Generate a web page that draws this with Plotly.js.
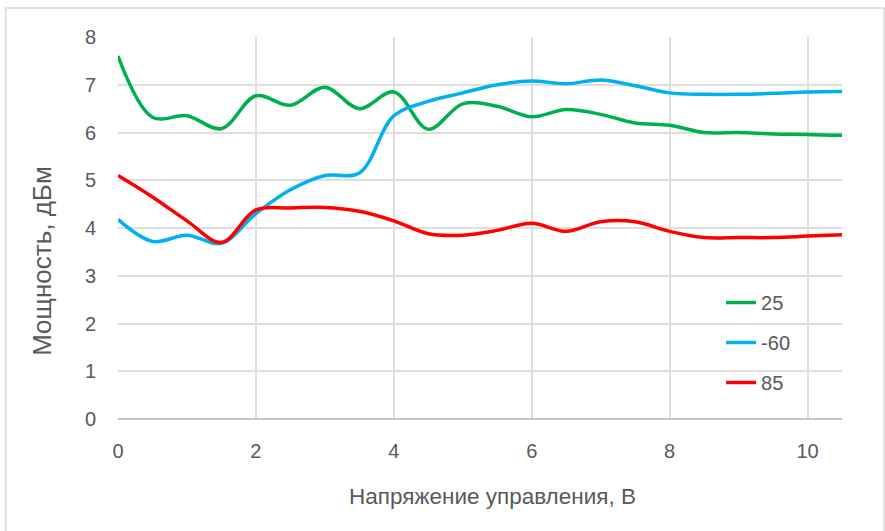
<!DOCTYPE html>
<html>
<head>
<meta charset="utf-8">
<script src="https://cdn.plot.ly/plotly-3.0.1.min.js"></script>
<style>html,body{margin:0;padding:0;background:#fff;}#chart{width:885px;height:531px;}</style>
</head>
<body>
<div id="chart"></div>
<script>
const voltage = [0,0.5,1,1.5,2,2.5,3,3.5,4,4.5,5,5.5,6,6.5,7,7.5,8,8.5,9,9.5,10,10.5];
const seriesNames = ["25","-60","85"];
const power25 = [7.6,6.32,6.35,6.08,6.77,6.57,6.95,6.5,6.85,6.07,6.6,6.55,6.33,6.48,6.38,6.2,6.15,6.0,6.0,5.97,5.96,5.94];
const powerM60 = [4.18,3.72,3.85,3.68,4.3,4.8,5.1,5.15,6.35,6.65,6.83,7.0,7.08,7.02,7.1,6.98,6.83,6.8,6.8,6.82,6.85,6.86];
const power85 = [5.1,4.65,4.15,3.7,4.38,4.42,4.43,4.35,4.15,3.88,3.85,3.95,4.1,3.93,4.13,4.13,3.93,3.8,3.8,3.8,3.83,3.86];
const xTicks = [0,2,4,6,8,10];
const yTicks = [0,1,2,3,4,5,6,7,8];
const xTitle = 'Напряжение управления, В';
const yTitle = 'Мощность, дБм';
const colors = ["#00b050","#00b0f0","#ff0000"];
const data = [power25, powerM60, power85];

const traces = data.map((y,i)=>({
  x: voltage, y: y, name: seriesNames[i], type:'scatter', mode:'lines',
  line:{color:colors[i], width:3.5, shape:'spline', smoothing:1},
  legendgroup:'g'+i, hoverinfo:'skip'
}));

const fam = '"Liberation Sans", Arial, sans-serif';
const layout = {
  width:885, height:531,
  margin:{l:118, r:43, t:37, b:112},
  paper_bgcolor:'#fff', plot_bgcolor:'#fff',
  font: {family:fam, size:20, color:'#595959'},
  showlegend:true,
  legend:{x:0.833, y:0.356, xanchor:'left', yanchor:'top', bgcolor:'rgba(0,0,0,0)',
          font:{family:fam, size:20, color:'#595959'}, tracegroupgap:11},
  xaxis:{range:[0,10.5], tickvals:xTicks, ticktext:xTicks.map(String), showgrid:true, gridcolor:'#dedede', gridwidth:2,
         zeroline:false, showline:false, ticks:'', ticklabelstandoff:18, fixedrange:true,
         tickfont:{family:fam, size:20, color:'#595959'}},
  yaxis:{range:[0,8], tickvals:yTicks, ticktext:yTicks.map(String), showgrid:true, gridcolor:'#dedede', gridwidth:2,
         zeroline:true, zerolinecolor:'#c8c8c8', zerolinewidth:2, showline:false, ticks:'', ticklabelstandoff:21, fixedrange:true,
         tickfont:{family:fam, size:20, color:'#595959'}},
  annotations:[
    {text:xTitle, xref:'paper', yref:'paper', x:0.5166, y:-0.204, xanchor:'center', yanchor:'middle', showarrow:false,
     font:{family:fam, size:22.5, color:'#595959'}},
    {text:yTitle, xref:'paper', yref:'paper', x:-0.105, y:0.414, xanchor:'center', yanchor:'middle', showarrow:false, textangle:-90,
     font:{family:fam, size:26, color:'#595959'}}
  ],
  shapes:[{type:'rect', xref:'paper', yref:'paper', x0:-0.155, x1:1.058, y0:-0.31, y1:1.076,
           line:{color:'#d9d9d9', width:1.5}, fillcolor:'rgba(0,0,0,0)', layer:'below'}]
};
Plotly.newPlot('chart', traces, layout, {displayModeBar:false, staticPlot:true});
</script>
</body>
</html>
